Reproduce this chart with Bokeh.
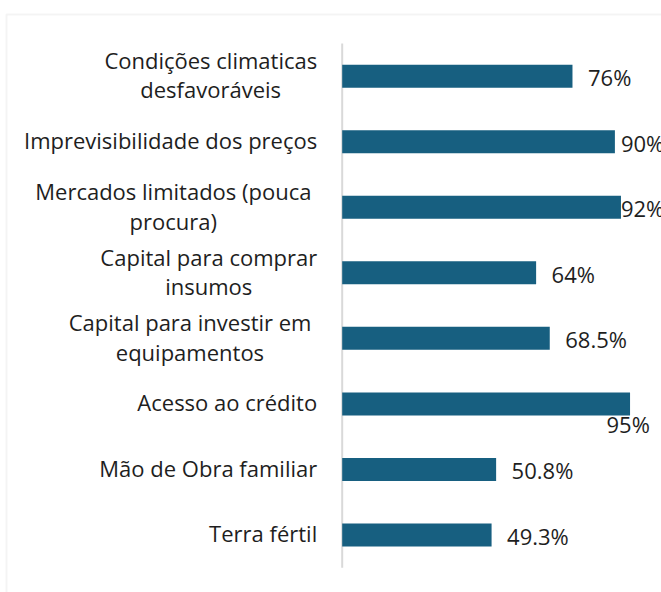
from bokeh.plotting import figure
from bokeh.models import ColumnDataSource, Range1d, BoxAnnotation
from bokeh.core.properties import value
from bokeh.embed import file_html
from bokeh.resources import INLINE

# ---- data ----
categories = [
    "Condições climaticas\ndesfavoráveis",
    "Imprevisibilidade dos preços",
    "Mercados limitados (pouca \nprocura)",
    "Capital para comprar\ninsumos",
    "Capital para investir em \nequipamentos",
    "Acesso ao crédito",
    "Mão de Obra familiar",
    "Terra fértil",
]
values = [76, 90, 92, 64, 68.5, 95, 50.8, 49.3]
value_labels = ["76%", "90%", "92%", "64%", "68.5%", "95%", "50.8%", "49.3%"]

# ---- style / layout ----
W, H = 661, 592
FONT = "Open Sans"
CAT_SIZE = 22
VAL_SIZE = 22
BAR_COLOR = "#175F80"
TEXT_COLOR = "#1E1E1E"
GRID_GRAY = "#D9D9D9"

PX_PER_UNIT = 3.03      # horizontal scale
X0_PX = 341.7           # pixel of value 0
BAND_PX = 65.54         # vertical spacing between bars
TOP_BAR_PX = 75.7       # pixel centre of first bar
n = len(values)

x_start = -X0_PX / PX_PER_UNIT
x_end = (W - X0_PX) / PX_PER_UNIT
y_end = (n - 1) + TOP_BAR_PX / BAND_PX
y_start = (n - 1) - (H - TOP_BAR_PX) / BAND_PX

ypos = [n - 1 - i for i in range(n)]

# approximate Open Sans advance widths (em)
_w = {" ": .26, "(": .296, ")": .296, ".": .266, "%": .837}
_w.update({d: .572 for d in "0123456789"})
_w.update(dict(a=.556, b=.613, c=.476, d=.613, e=.561, f=.336, g=.546, h=.613,
               i=.258, j=.258, k=.521, l=.258, m=.930, n=.613, o=.602, p=.613,
               q=.613, r=.408, s=.477, t=.353, u=.613, v=.500, w=.778, x=.523,
               y=.500, z=.464))
_w.update({"ç": .476, "õ": .602, "á": .556, "é": .561, "ã": .556,
           "C": .631, "I": .279, "M": .89, "A": .633, "T": .556, "O": .779})


def text_width(s, size):
    return sum(_w.get(ch, .6) for ch in s) * size


p = figure(width=W, height=H, output_backend="svg", toolbar_location=None,
           x_range=Range1d(x_start, x_end), y_range=Range1d(y_start, y_end),
           x_axis_location=None, y_axis_location=None,
           min_border=0, outline_line_color=None,
           background_fill_color="white", border_fill_color="white")
p.grid.visible = False

# chart border (screen y measured from the bottom)
p.add_layout(BoxAnnotation(left=6, top=H - 14, right=3000, bottom=-3000,
                           left_units="screen", right_units="screen",
                           top_units="screen", bottom_units="screen",
                           fill_alpha=0, line_color=GRID_GRAY, line_width=2))

# vertical axis line
p.segment(x0=[0], y0=[-0.5], x1=[0], y1=[n - 0.5], line_color=GRID_GRAY, line_width=2)

# bars
src = ColumnDataSource(dict(y=ypos, v=values))
p.hbar(y="y", left=0, right="v", height=23 / BAND_PX, source=src,
       fill_color=BAR_COLOR, line_color=None)

# category labels: block right-aligned next to the axis, lines centred on each other
LABEL_GAP = 25
LINE_GAP = 29.5
NUDGE = -1.5
t_txt, t_y, t_xoff, t_yoff = [], [], [], []
for cat, y in zip(categories, ypos):
    lines = cat.split("\n")
    k = len(lines)
    vis1 = text_width(lines[0].rstrip(), CAT_SIZE)
    trail1 = text_width(lines[0], CAT_SIZE) - vis1
    centre = -LABEL_GAP - trail1 - vis1 / 2
    for j, line in enumerate(lines):
        wl = text_width(line.rstrip(), CAT_SIZE)
        t_txt.append(line.rstrip())
        t_y.append(y)
        t_xoff.append(centre + wl / 2)          # right edge of this line
        t_yoff.append(NUDGE + (j - (k - 1) / 2) * LINE_GAP)

p.text(x=0, y="y", text="t", y_offset="yo", x_offset="xo",
       source=ColumnDataSource(dict(y=t_y, t=t_txt, xo=t_xoff, yo=t_yoff)),
       text_align="right", text_baseline="middle",
       text_font=value(FONT), text_font_size=f"{CAT_SIZE}px", text_color=TEXT_COLOR)

# value labels: outside end, clamped to chart area; the longest bar's label goes below
RIGHT_LIMIT = 664
vmax = max(values)
lx_off, ly_off = [], []
for v, lab in zip(values, value_labels):
    end_px = X0_PX + v * PX_PER_UNIT
    w = text_width(lab, VAL_SIZE)
    if v == vmax:
        left = end_px + 20 - w
        ly_off.append(20)
    else:
        left = min(end_px + 15.5, RIGHT_LIMIT - w)
        ly_off.append(1)
    lx_off.append(left - end_px)

p.text(x="v", y="y", text="t", x_offset="xo", y_offset="yo",
       source=ColumnDataSource(dict(v=values, y=ypos, t=value_labels, xo=lx_off, yo=ly_off)),
       text_align="left", text_baseline="middle",
       text_font=value(FONT), text_font_size=f"{VAL_SIZE}px", text_color=TEXT_COLOR)

open("out.html", "w").write(file_html(p, INLINE))
